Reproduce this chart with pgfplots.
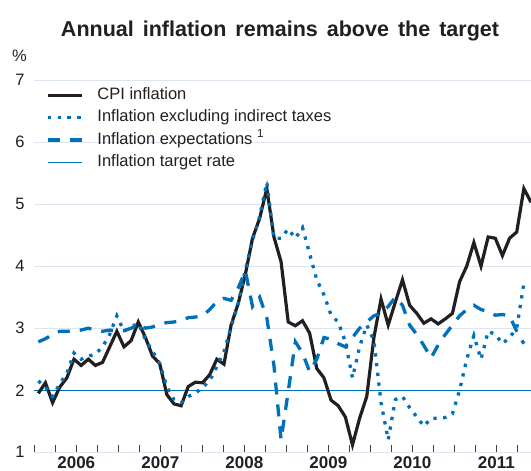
\documentclass[border=0pt]{standalone}
\usepackage{fontspec}
\setmainfont{Liberation Sans}
\usepackage{pgfplots}
\pgfplotsset{compat=1.18}
\definecolor{cpiblue}{HTML}{0070B8}
\definecolor{ink}{HTML}{231F20}
\definecolor{gridc}{HTML}{DCE4F0}

\begin{document}
\begin{tikzpicture}
\useasboundingbox (-34.3bp,-18.7bp) rectangle (496.7bp,452.3bp);
\begin{axis}[
    scale only axis, width=496.7bp, height=372.3bp,
    xmin=-0.56, xmax=69.0, ymin=1, ymax=7,
    axis line style={draw=none},
    ytick={1,...,7}, ymajorgrids,
    grid style={gridc, line width=0.9bp},
    ytick style={draw=none},
    /pgf/number format/assume math mode=true,
    yticklabel style={anchor=center, xshift=-14.3bp, text=ink,
        font=\fontsize{16.5bp}{18bp}\selectfont},
    xtick={-0.560,2.381,5.322,8.263,11.204,14.146,17.087,20.028,22.969,25.910,
           28.852,31.793,34.734,37.675,40.616,43.558,46.499,49.440,52.381,55.322,
           58.264,61.205,64.146,67.087},
    xticklabels={{},{},2006,{},{},{},2007,{},{},{},2008,{},{},{},2009,{},{},{},2010,{},{},{},2011,{}},
    xtick pos=bottom, xtick align=inside, major tick length=7bp,
    xtick style={draw=ink!85, line width=1bp},
    xticklabel style={anchor=base, yshift=-16.5bp, inner sep=0pt, text=ink,
        font=\bfseries\fontsize{17bp}{18bp}\selectfont},
    clip=false,
    legend cell align=left,
    legend image code/.code={\draw[#1] (0bp,0bp) -- (34bp,0bp);},
    legend style={draw=none, fill=none, inner sep=0pt,
        at={(axis description cs:0.0235,0.980)}, anchor=north west,
        row sep=7bp, text=ink, font=\fontsize{16.5bp}{18bp}\selectfont,
        nodes={inner sep=0pt, text height=11.8bp, text depth=3.5bp},
        /tikz/every odd column/.append style={column sep=14bp}},
]
% inflation target (drawn first, listed last)
\addplot[cpiblue, line width=1.3bp, forget plot] coordinates {(-0.56,2) (69.0,2)};

% CPI inflation
\addplot[ink, line width=3.2bp, line join=miter] coordinates {
(0,1.95) (1,2.12) (2,1.8) (3,2.05) (4,2.2) (5,2.5) (6,2.4) (7,2.5) (8,2.4) (9,2.45)
(10,2.7) (11,2.95) (12,2.7) (13,2.8) (14,3.1) (15,2.85) (16,2.55) (17,2.43) (18,1.93) (19,1.78)
(20,1.75) (21,2.06) (22,2.13) (23,2.12) (24,2.25) (25,2.5) (26,2.42) (27,3.05) (28,3.4) (29,3.87)
(30,4.45) (31,4.77) (32,5.25) (33,4.47) (34,4.07) (35,3.1) (36,3.04) (37,3.12) (38,2.92) (39,2.35)
(40,2.2) (41,1.84) (42,1.75) (43,1.57) (44,1.12) (45,1.55) (46,1.9) (47,2.85) (48,3.47) (49,3.05)
(50,3.42) (51,3.78) (52,3.37) (53,3.24) (54,3.08) (55,3.15) (56,3.07) (57,3.15) (58,3.24) (59,3.75)
(60,4.0) (61,4.38) (62,4.0) (63,4.47) (64,4.45) (65,4.17) (66,4.45) (67,4.55) (68,5.25) (69,5.03)};
\addlegendentry{CPI inflation}

% excluding indirect taxes
\addplot[cpiblue, line width=3.3bp, dash pattern=on 3.3bp off 6.5bp, line join=miter] coordinates {
(0,2.15) (1,2.05) (2,1.9) (3,2.1) (4,2.27) (5,2.6) (6,2.5) (7,2.55) (8,2.58) (9,2.7)
(10,2.9) (11,3.2) (12,2.95) (13,3.02) (14,3.08) (15,2.82) (16,2.63) (17,2.43) (18,2.06) (19,1.85)
(20,1.8) (21,1.9) (22,1.95) (23,2.05) (24,2.15) (25,2.38) (26,2.62) (27,3.02) (28,3.4) (29,3.94)
(30,4.42) (31,4.8) (32,5.35) (33,4.45) (34,4.45) (35,4.6) (36,4.45) (37,4.62) (38,4.2) (39,3.78)
(40,3.54) (41,3.21) (42,3.1) (43,2.78) (44,2.2) (45,2.7) (46,3.05) (47,2.8) (48,1.8) (49,1.2)
(50,1.85) (51,1.9) (52,1.72) (53,1.57) (54,1.42) (55,1.55) (56,1.55) (57,1.56) (58,1.62) (59,2.0)
(60,2.5) (61,2.88) (62,2.5) (63,2.95) (64,2.9) (65,2.75) (66,2.85) (67,3.0) (68,3.72)};
\addlegendentry{Inflation excluding indirect taxes}

% inflation expectations
\addplot[cpiblue, line width=3.3bp, dash pattern=on 12bp off 10bp, line join=miter] coordinates {
(0,2.78) (1,2.83) (2,2.9) (3,2.95) (4,2.95) (5,2.96) (6,2.97) (7,3.0) (8,2.97) (9,2.95)
(10,2.97) (11,2.95) (12,2.96) (13,3.0) (14,3.05) (15,3.0) (16,3.02) (17,3.07) (18,3.09) (19,3.1)
(20,3.12) (21,3.17) (22,3.18) (23,3.2) (24,3.3) (25,3.43) (26,3.48) (27,3.45) (28,3.65) (29,3.92)
(30,3.35) (31,3.5) (32,3.17) (33,2.4) (34,1.2) (35,1.98) (36,2.78) (37,2.6) (38,2.3) (39,2.5)
(40,2.85) (41,2.82) (42,2.75) (43,2.7) (44,2.85) (45,3.0) (46,3.1) (47,3.2) (48,3.24) (49,3.35)
(50,3.5) (51,3.37) (52,3.05) (53,2.9) (54,2.72) (55,2.52) (56,2.73) (57,2.9) (58,3.05) (59,3.2)
(60,3.3) (61,3.37) (62,3.3) (63,3.27) (64,3.21) (65,3.22) (66,3.2) (67,2.95) (68,2.75)};
\addlegendentry{Inflation expectations \textsuperscript{1}}

\addlegendimage{cpiblue, line width=1.3bp}
\addlegendentry{Inflation target rate}
\end{axis}
\node[anchor=base, text=ink, inner sep=0pt,
      font=\bfseries\fontsize{21.5bp}{24bp}\selectfont]
    at (245.7bp,415.3bp) {\spaceskip=9bp plus 0bp\relax Annual inflation remains above the target};
\node[anchor=base, text=ink, font=\fontsize{16.5bp}{18bp}\selectfont]
    at (-14.8bp,390.3bp) {\%};
\end{tikzpicture}
\end{document}
